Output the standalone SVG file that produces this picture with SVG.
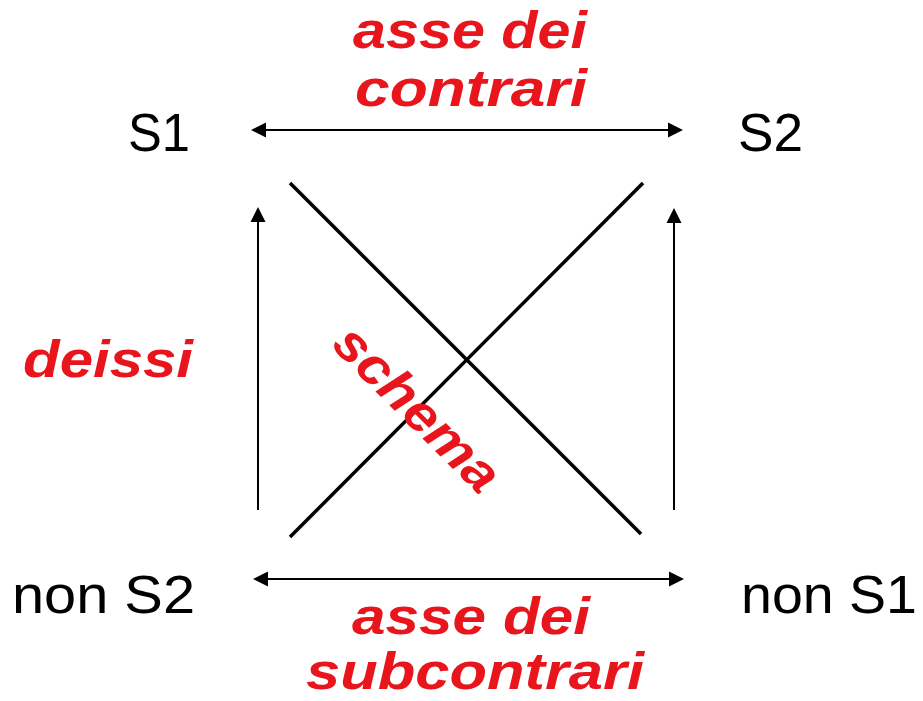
<svg xmlns="http://www.w3.org/2000/svg" width="923" height="701" viewBox="0 0 923 701">
<style>
.lbl{font-family:"Liberation Sans",Arial,sans-serif;font-size:54px;fill:#000}
.red{font-family:"Liberation Sans",Arial,sans-serif;font-size:52px;font-weight:bold;font-style:italic;fill:#E8161C}
.arr{stroke:#000;stroke-width:2;fill:none;marker-start:url(#ah);marker-end:url(#ah)}
.up{stroke:#000;stroke-width:2;fill:none;marker-end:url(#ah)}
.diag{stroke:#000;stroke-width:3.5;fill:none}
</style>
<defs>
<marker id="ah" markerUnits="userSpaceOnUse" markerWidth="16" markerHeight="16" refX="0" refY="7.5" orient="auto-start-reverse" overflow="visible">
<path d="M0,0 L15,7.5 L0,15 z" fill="#000"/>
</marker>
</defs>
<rect width="923" height="701" fill="#fff"/>
<g id="connectors">
<line class="arr" x1="266" y1="130" x2="668" y2="130"/>
<line class="arr" x1="268" y1="579" x2="669" y2="579"/>
<line class="up" x1="258" y1="510" x2="258" y2="222"/>
<line class="up" x1="674" y1="510" x2="674" y2="223"/>
<line class="diag" x1="290" y1="183" x2="641" y2="534"/>
<line class="diag" x1="643" y1="183" x2="290" y2="537"/>
</g>
<g id="S1"><text class="lbl" x="128" y="151" textLength="62" lengthAdjust="spacingAndGlyphs">S1</text></g>
<g id="S2"><text class="lbl" x="738" y="151" textLength="65" lengthAdjust="spacingAndGlyphs">S2</text></g>
<g id="nonS2"><text class="lbl" x="12" y="613" textLength="183" lengthAdjust="spacingAndGlyphs">non S2</text></g>
<g id="nonS1"><text class="lbl" x="741" y="613" textLength="176" lengthAdjust="spacingAndGlyphs">non S1</text></g>
<g id="contrari">
<text class="red" x="353" y="48" textLength="234" lengthAdjust="spacingAndGlyphs">asse dei</text>
<text class="red" x="355" y="106" textLength="232" lengthAdjust="spacingAndGlyphs">contrari</text>
</g>
<g id="subcontrari">
<text class="red" x="352" y="634" textLength="238" lengthAdjust="spacingAndGlyphs">asse dei</text>
<text class="red" x="306" y="689" textLength="338" lengthAdjust="spacingAndGlyphs">subcontrari</text>
</g>
<g id="deissi"><text class="red" x="23" y="377" textLength="170" lengthAdjust="spacingAndGlyphs">deissi</text></g>
<g id="schema"><text class="red" x="0" y="0" text-anchor="middle" textLength="212" lengthAdjust="spacingAndGlyphs" transform="translate(405,421) rotate(45)">schema</text></g>
</svg>
